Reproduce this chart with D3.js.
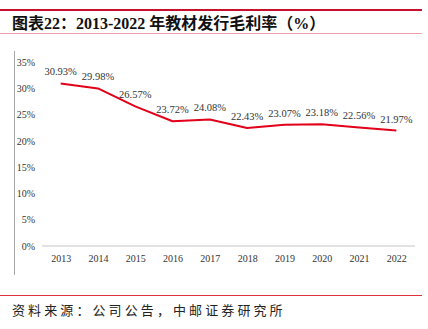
<!DOCTYPE html>
<html><head><meta charset="utf-8">
<script src="https://cdn.jsdelivr.net/npm/d3@7"></script>
<style>body{margin:0;background:#fff}svg{display:block}</style>
</head><body>
<script>
const years = ["2013","2014","2015","2016","2017","2018","2019","2020","2021","2022"];
const grossMargin = [30.93, 29.98, 26.57, 23.72, 24.08, 22.43, 23.07, 23.18, 22.56, 21.97];
const yTicks = [0,5,10,15,20,25,30,35];
const titleText = "图表22：2013-2022 年教材发行毛利率（%）";
const sourceText = "资料来源：公司公告，中邮证券研究所";

const W = 428, H = 329;
const svg = d3.select("body").append("svg").attr("width", W).attr("height", H);

// header / footer rules
svg.append("rect").attr("x",0).attr("y",9).attr("width",422).attr("height",2).attr("fill","#c8102e");
svg.append("rect").attr("x",0).attr("y",33).attr("width",422).attr("height",1).attr("fill","#f0a0a8");
svg.append("rect").attr("x",0).attr("y",295).attr("width",422).attr("height",1).attr("fill","#e0303a");

svg.append("text").attr("x",12).attr("y",28.5)
  .attr("font-family","'Liberation Serif','Noto Sans CJK SC',serif")
  .attr("font-weight","bold").attr("font-size",16).attr("fill","#111")
  .text(titleText);

svg.append("text").attr("x",12).attr("y",315)
  .attr("font-family","'Noto Sans CJK SC',sans-serif")
  .attr("font-size",13).attr("letter-spacing",3.1).attr("fill","#222")
  .text(sourceText);

const x = d3.scalePoint().domain(years).range([42,415]).padding(0.5);
const y = d3.scaleLinear().domain([0,35]).range([246,62]);

// vertical axis line
svg.append("line").attr("x1",14.5).attr("x2",14.5).attr("y1",51).attr("y2",275)
  .attr("stroke","#a6a6a6").attr("stroke-width",1);

// y tick labels
const yAxis = d3.axisLeft(y).tickValues(yTicks).tickFormat(d => d + "%").tickSize(0).tickPadding(0);
const ya = svg.append("g").attr("transform","translate(35,0)").call(yAxis);
ya.select(".domain").remove();
ya.selectAll("text").attr("font-family","'Liberation Serif',serif").attr("font-size",10).attr("fill","#333");

// x axis
const xAxis = d3.axisBottom(x).tickSize(0).tickPadding(9);
const xa = svg.append("g").attr("transform","translate(0,246)").call(xAxis);
xa.select(".domain").attr("stroke","#d9d9d9").attr("stroke-width",1.5)
  .attr("d","M42,0H415");
xa.selectAll("text").attr("font-family","'Liberation Serif',serif").attr("font-size",10).attr("fill","#333");

// line
const line = d3.line().x((d,i)=>x(years[i])).y(d=>y(d));
svg.append("path").datum(grossMargin).attr("d",line)
  .attr("fill","none").attr("stroke","#e2001a").attr("stroke-width",2).attr("stroke-linejoin","round");

// data labels
svg.selectAll(".lbl").data(grossMargin).join("text")
  .attr("x",(d,i)=>x(years[i])).attr("y",d=>y(d)-8)
  .attr("text-anchor","middle")
  .attr("font-family","'Liberation Serif',serif").attr("font-size",10.5).attr("fill","#333")
  .text(d=>d.toFixed(2)+"%");
</script>
</body></html>
